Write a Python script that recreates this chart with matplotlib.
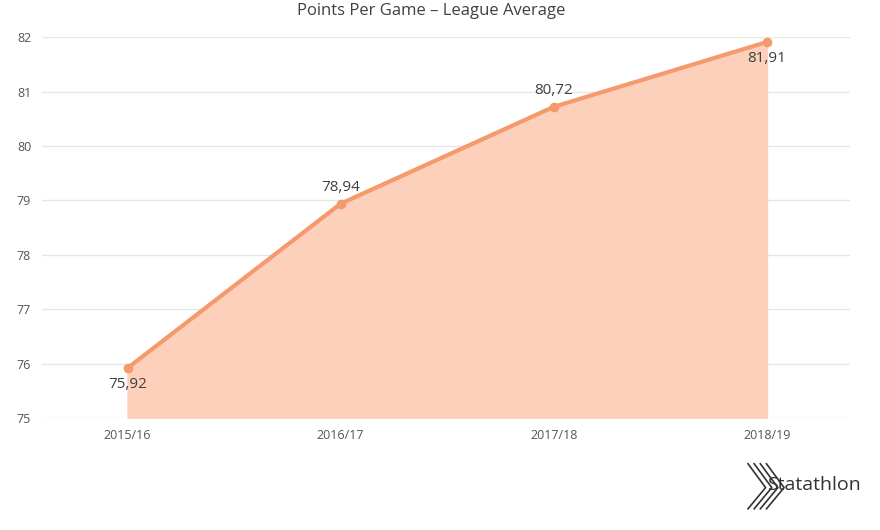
import matplotlib.pyplot as plt
from matplotlib.lines import Line2D

seasons = ['2015/16', '2016/17', '2017/18', '2018/19']
points = [75.92, 78.94, 80.72, 81.91]
label_text = ['75,92', '78,94', '80,72', '81,91']

plt.rcParams['font.family'] = ['Open Sans', 'DejaVu Sans']
fig = plt.figure(figsize=(8.8, 5.3), dpi=100)
ax = fig.add_axes([0.048, 0.211, 0.918, 0.719])

x = list(range(len(seasons)))
ax.fill_between(x, points, 75, color='#fdd0bc')
ax.plot(x, points, color='#f59a6c', lw=3, marker='o', ms=6, zorder=3)

# label offsets: below for first/last, above for middle
offsets = [(-0.3, -0.1), (0.3, 0), (0.3, 0), (-0.3, -0.1)]
for xi, yi, t, (dy, _) in zip(x, points, label_text, offsets):
    ax.text(xi, yi + dy, t, ha='center', va='center', fontsize=11, color='#404040')

ax.set_ylim(75, 82)
ax.set_xlim(-0.4, 3.39)
ax.set_yticks(range(75, 83))
ax.set_xticks(x)
ax.set_xticklabels(seasons)
ax.tick_params(length=0, labelsize=9, colors='#555555', pad=8)
ax.grid(axis='y', color='#e6e6e6', lw=1)
ax.set_axisbelow(True)
for s in ax.spines.values():
    s.set_visible(False)

fig.text(0.49, 0.98, 'Points Per Game \u2013 League Average', ha='center', va='center',
         fontsize=12, color='#404040')

# logo
for k in range(4):
    dx = k * 0.007
    fig.add_artist(Line2D([0.850 + dx, 0.870 + dx, 0.850 + dx],
                          [0.125 - k * 0.0, 0.08, 0.04],
                          transform=fig.transFigure, color='#333333', lw=1.2))
fig.text(0.872, 0.085, 'Statathlon', fontsize=14, color='#333333', va='center')

fig.savefig('out.png')
